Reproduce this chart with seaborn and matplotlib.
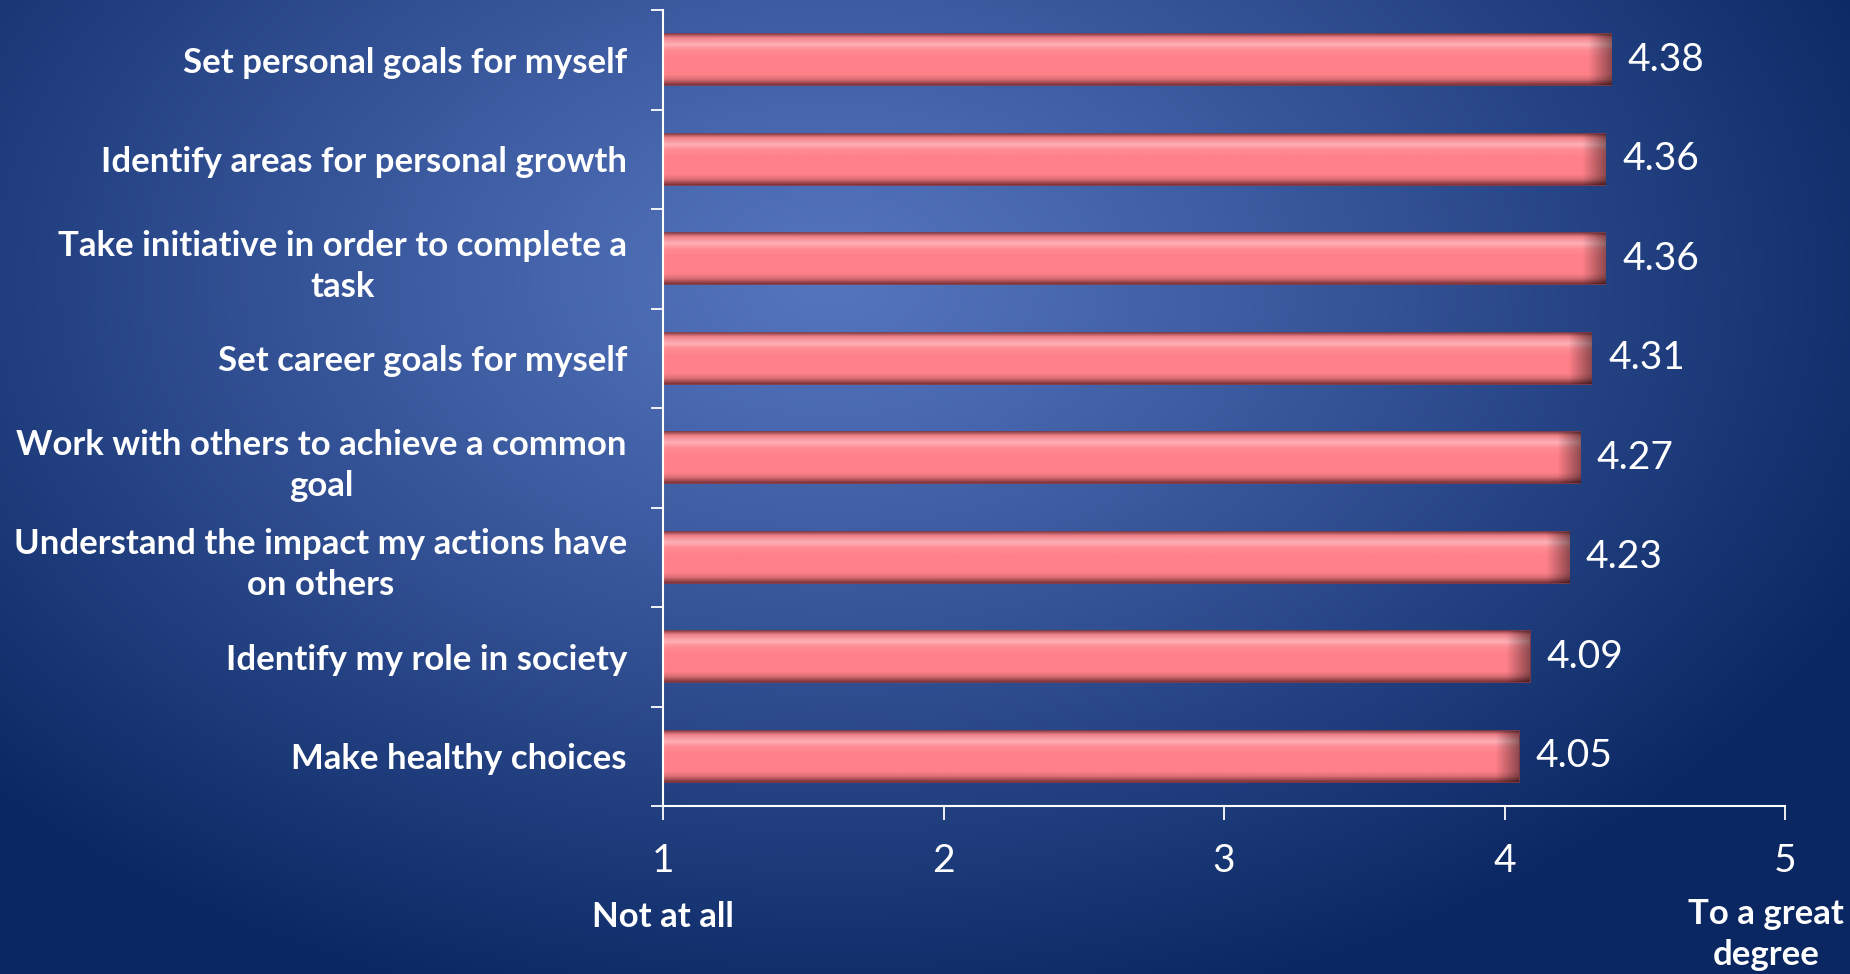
import numpy as np
import matplotlib
matplotlib.use("Agg")
import matplotlib.pyplot as plt
import seaborn as sns

# survey items, top to bottom
items = [
    "Set personal goals for myself",
    "Identify areas for personal growth",
    "Take initiative in order to complete a\ntask",
    "Set career goals for myself",
    "Work with others to achieve a common\ngoal",
    "Understand the impact my actions have\non others",
    "Identify my role in society",
    "Make healthy choices",
]
scores = [4.38, 4.36, 4.36, 4.31, 4.27, 4.23, 4.09, 4.05]
x_ticks = [1, 2, 3, 4, 5]
low_label = "Not at all"
high_label = "To a great\ndegree"

sns.set_theme(style="white")
plt.rcParams["font.family"] = ["Lato", "DejaVu Sans"]

W, H = 1850, 974
fig = plt.figure(figsize=(W / 100, H / 100), dpi=100)

# radial blue background
bg = fig.add_axes([0, 0, 1, 1])
yy, xx = np.mgrid[0:H, 0:W]
r = np.sqrt(((xx - 830) / 1150.0) ** 2 + ((yy - 280) / 760.0) ** 2)
t = np.clip(r, 0, 1) ** 1.1
c0 = np.array([0x55, 0x75, 0xbf]) / 255.0
c1 = np.array([0x0a, 0x27, 0x62]) / 255.0
img = c0[None, None, :] * (1 - t[..., None]) + c1[None, None, :] * t[..., None]
bg.imshow(img, aspect="auto", extent=[0, 1, 0, 1], origin="upper")
bg.axis("off")

ax = fig.add_axes([663 / W, 1 - 806 / H, (1785 - 663) / W, (806 - 10) / H])
ax.set_facecolor("none")

sns.barplot(x=scores, y=items, orient="h", color="#ff8089", saturation=1,
            width=0.51, edgecolor="#8c3b40", linewidth=1.2, ax=ax)
main = ax.containers[0]

ax.set_xlim(1, 5)
ax.set_ylim(len(items) - 0.5, -0.5)

# bevelled look: vertical shading inside each bar, darker right end
stops = [0.0, 0.06, 0.2, 0.3, 0.45, 0.8, 0.9, 1.0]
cols = np.array([
    [0x9a, 0x4a, 0x50], [0xf0, 0x80, 0x88], [0xff, 0xb0, 0xb6],
    [0xff, 0x8c, 0x94], [0xff, 0x80, 0x89], [0xff, 0x80, 0x89],
    [0xd8, 0x6c, 0x74], [0x80, 0x34, 0x3a]]) / 255.0
ny = 60
prof = np.stack([np.interp(np.linspace(0, 1, ny), stops, cols[:, k]) for k in range(3)], axis=1)
px_per_unit = (1785 - 663) / 4.0
for p in main.patches:
    x0, y0 = p.get_x(), p.get_y()
    w, h = p.get_width(), p.get_height()
    xe = x0 + w
    bar_px = (xe - 1) * px_per_unit
    nx = max(int(bar_px), 2)
    xs = np.arange(nx)
    shade = np.clip((xs - (nx - 24)) / 24.0, 0, 1)[None, :, None]
    tile = np.repeat(prof[:, None, :], nx, axis=1)
    tile = tile * (1 - 0.45 * shade)
    im = ax.imshow(tile, extent=[1, xe, y0 + h, y0], aspect="auto",
                   interpolation="bilinear", zorder=p.get_zorder() + 0.1)
    im.set_clip_path(p)
ax.set_xlim(1, 5)
ax.set_ylim(len(items) - 0.5, -0.5)

ax.set_xticks(x_ticks)
ax.set_xticklabels([str(v) for v in x_ticks])
ax.set_yticks(range(len(items)))
ax.set_yticklabels(items, fontsize=25, fontweight="bold", color="white",
                   multialignment="center", linespacing=1.35)
ax.set_yticks(np.arange(-0.5, len(items), 1), minor=True)
ax.set_xlabel("")
ax.set_ylabel("")

ax.tick_params(axis="y", which="major", length=0, pad=26)
ax.tick_params(axis="y", which="minor", length=9, width=1.3, color="white", left=True)
ax.tick_params(axis="x", length=10, width=1.3, color="white", labelcolor="white",
               labelsize=28, pad=17, bottom=True)

for s in ["top", "right"]:
    ax.spines[s].set_visible(False)
for s in ["left", "bottom"]:
    ax.spines[s].set_color("white")
    ax.spines[s].set_linewidth(1.5)
ax.grid(False)

ax.bar_label(main, labels=[f"{v:.2f}" for v in scores], padding=12,
             color="white", fontsize=28)

fig.text(663 / W, 1 - 917 / H, low_label, ha="center", va="center",
         color="white", fontsize=25, fontweight="bold")
fig.text(1766 / W, 1 - 898 / H, high_label, ha="center", va="top",
         color="white", fontsize=25, fontweight="bold", linespacing=1.35)

fig.savefig("out.png", dpi=100)
